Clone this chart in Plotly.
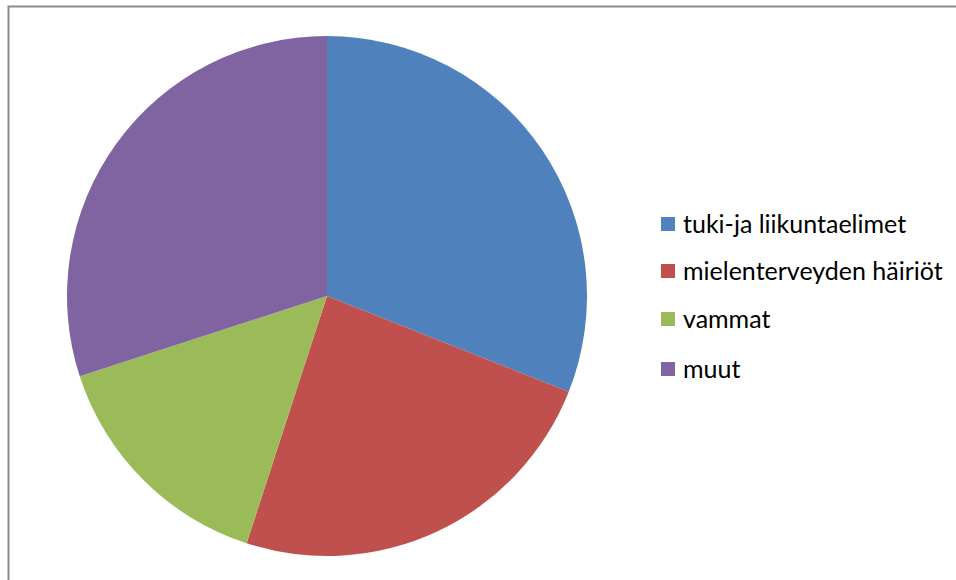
import plotly.graph_objects as go

labels = ["tuki-ja liikuntaelimet", "mielenterveyden häiriöt", "vammat", "muut"]
values = [31, 24, 15, 30]
colors = ["#4f81bd", "#c0504d", "#9bbb59", "#8064a2"]

W, H = 956, 580
cx, cy, r = 327, 296, 260

fig = go.Figure(go.Pie(
    labels=labels, values=values, sort=False, direction="clockwise", rotation=0,
    marker=dict(colors=colors, line=dict(width=0)), textinfo="none", hoverinfo="label+value",
    domain=dict(x=[(cx - r) / W, (cx + r) / W], y=[(H - cy - r) / H, (H - cy + r) / H]),
    showlegend=False,
))

shapes = [dict(type="rect", xref="paper", yref="paper", x0=8.5 / W, x1=1.05, y0=-0.05, y1=1 - 6.5 / H,
               line=dict(color="#8c8c8c", width=2), fillcolor="rgba(0,0,0,0)", layer="below")]
annotations = []
row_y = [224, 271, 319, 369]
for lab, col, yy in zip(labels, colors, row_y):
    shapes.append(dict(type="rect", xref="paper", yref="paper", x0=661 / W, x1=675 / W,
                       y0=1 - (yy + 7) / H, y1=1 - (yy - 7) / H, fillcolor=col, line=dict(width=0)))
    annotations.append(dict(xref="paper", yref="paper", x=681 / W, y=1 - (yy - 1) / H, text=lab,
                            showarrow=False, xanchor="left", yanchor="middle",
                            font=dict(family="Lato", size=25, color="#000000")))

fig.update_layout(width=W, height=H, margin=dict(l=0, r=0, t=0, b=0), paper_bgcolor="white",
                  plot_bgcolor="white", shapes=shapes, annotations=annotations)
fig.write_html("out.html")
